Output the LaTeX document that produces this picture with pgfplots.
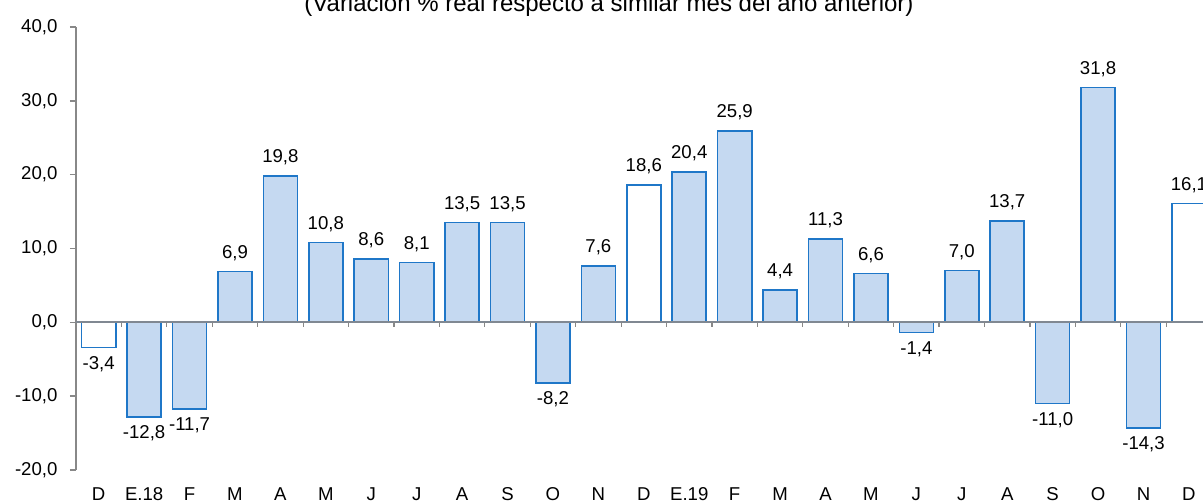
\documentclass[border=0pt]{standalone}
\usepackage{pgfplots}
\pgfplotsset{compat=1.18}
\usepackage{pgfplotstable}
\usepackage{fontspec}
\setmainfont{Liberation Sans}
\definecolor{barfill}{RGB}{197,217,241}
\definecolor{baredge}{RGB}{31,119,200}
\definecolor{axgray}{RGB}{136,136,136}
\definecolor{zerogray}{RGB}{128,136,146}
\pgfplotstableread{
x y
3 6.9
4 19.8
5 10.8
6 8.6
7 8.1
8 13.5
9 13.5
11 7.6
13 20.4
14 25.9
15 4.4
16 11.3
17 6.6
19 7.0
20 13.7
22 31.8
}\filledpos
\pgfplotstableread{
x y
1 -12.8
2 -11.7
10 -8.2
18 -1.4
21 -11.0
23 -14.3
}\filledneg
\pgfplotstableread{
x y
12 18.6
24 16.1
}\hollowpos
\pgfplotstableread{
x y
0 -3.4
}\hollowneg
\begin{document}
\fontsize{9.3bp}{11bp}\selectfont
\begin{tikzpicture}
\useasboundingbox (0,0) rectangle (601.5bp,251.5bp);
\begin{axis}[
  at={(38bp,16.5bp)}, anchor=south west,
  scale only axis, width=563.5bp, height=221.5bp,
  xmin=-0.5, xmax=24.31, ymin=-20, ymax=40,
  axis lines*=left,
  x axis line style={draw=none},
  y axis line style={axgray, line width=0.75bp},
  ytick={-20,-10,...,40},
  xtick={0,...,24},
  xticklabels={D,E.18,F,M,A,M,J,J,A,S,O,N,D,E.19,F,M,A,M,J,J,A,S,O,N,D},
  xtick style={draw=none},
  ytick style={axgray, line width=0.75bp},
  tick align=outside, major tick length=3bp,
  tick label style={font=\fontsize{9.3bp}{11bp}\selectfont, text=black},
  yticklabel style={xshift=-3bp},
  xticklabel style={yshift=-2.6bp},
  /pgf/number format/.cd, fixed, fixed zerofill, precision=1, use comma, assume math mode=true,
  /pgfplots/.cd,
  ybar, bar width=0.75, bar shift=0pt,
  nodes near coords,
  every node near coord/.append style={font=\fontsize{9.3bp}{11bp}\selectfont, text=black},
  pos/.style={every node near coord/.append style={anchor=south, yshift=2bp}},
  neg/.style={every node near coord/.append style={anchor=north, yshift=-1bp}},
]
\addplot[fill=barfill, draw=baredge, line width=0.8bp, pos] table[x=x,y=y] {\filledpos};
\addplot[fill=barfill, draw=baredge, line width=0.8bp, neg] table[x=x,y=y] {\filledneg};
\addplot[fill=white, draw=baredge, line width=0.8bp, pos] table[x=x,y=y] {\hollowpos};
\addplot[fill=white, draw=baredge, line width=0.8bp, neg] table[x=x,y=y] {\hollowneg};
\draw[zerogray, line width=1bp] (axis cs:-0.5,0) -- (axis cs:24.31,0);
\pgfplotsinvokeforeach{0.5,1.5,...,23.5}{\draw[axgray, line width=0.6bp] (axis cs:#1,0) -- ([yshift=-2.5bp]axis cs:#1,0);}
\end{axis}
\node[anchor=base, font=\fontsize{12bp}{14bp}\selectfont] at (304.5bp,245.5bp) {(Variación \% real respecto a similar mes del año anterior)};
\end{tikzpicture}
\end{document}
